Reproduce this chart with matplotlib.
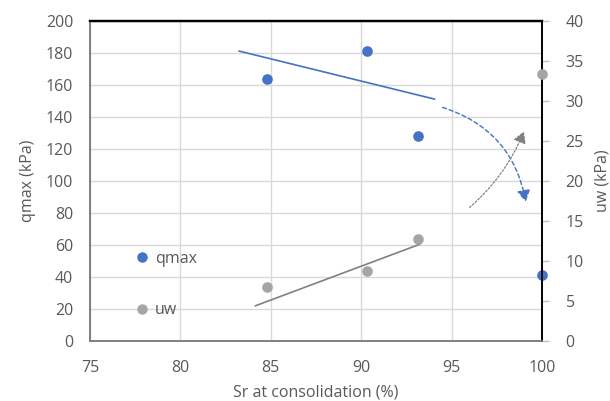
import matplotlib
matplotlib.use("Agg")
import matplotlib.pyplot as plt
from matplotlib.patches import FancyArrowPatch
from matplotlib.lines import Line2D

plt.rcParams['font.family'] = ['Open Sans', 'DejaVu Sans']

# Degree of saturation at consolidation (%)
sr = [84.8, 90.3, 93.15, 100.0]
# Peak deviator stress (kPa)
qmax = [164, 181.5, 128, 41]
# Pore water pressure (kPa)
uw = [6.7, 8.7, 12.8, 33.4]

# Linear trends over the first three tests
qmax_trend_x = [83.25, 94.05]
qmax_trend_y = [181.2, 151.2]
uw_trend_x = [84.15, 93.25]
uw_trend_y = [4.4, 12.1]

xticks = [75, 80, 85, 90, 95, 100]
qticks = list(range(0, 201, 20))
uticks = list(range(0, 41, 5))

blue = '#4472C4'
gray = '#A5A5A5'
txt = '#595959'

fig = plt.figure(figsize=(6.1, 4.01), dpi=100)
ax = fig.add_axes([90/610, 60/401, 452/610, 320/401])
ax2 = ax.twinx()

ax.set_xlim(75, 100)
ax.set_ylim(0, 200)
ax2.set_ylim(0, 40)
ax.set_xticks(xticks)
ax.set_yticks(qticks)
ax2.set_yticks(uticks)

ax.grid(True, color='#D9D9D9', linewidth=1.0)
ax.set_axisbelow(True)

ax.plot(qmax_trend_x, qmax_trend_y, color=blue, linewidth=1.2, zorder=2)
ax2.plot(uw_trend_x, uw_trend_y, color='#808080', linewidth=1.2, zorder=2)
ax.scatter(sr, qmax, s=44, color=blue, zorder=4, clip_on=False)
ax2.scatter(sr, uw, s=44, color=gray, zorder=4, clip_on=False)

# Curved arrows indicating the trend change near full saturation
a1 = FancyArrowPatch((94.5, 146), (99.1, 87), connectionstyle='arc3,rad=-0.3',
                     arrowstyle='-|>,head_length=7,head_width=4', color=blue,
                     linestyle=(0, (3, 2)), linewidth=1.0, zorder=3,
                     shrinkA=0, shrinkB=0)
a2 = FancyArrowPatch((96.0, 83.5), (99.0, 131), connectionstyle='arc3,rad=0.12',
                     arrowstyle='-|>,head_length=7,head_width=4', color='#808080',
                     linestyle=(0, (1.5, 1.5)), linewidth=0.9, zorder=3,
                     shrinkA=0, shrinkB=0)
ax.add_patch(a1)
ax.add_patch(a2)

for a in (ax, ax2):
    a.tick_params(labelsize=11.5, colors=txt)
ax.tick_params(axis='x', length=0, pad=14)
ax.tick_params(axis='y', length=0, pad=12)
ax2.tick_params(axis='y', length=5, width=1, color='#BFBFBF', pad=12)

for a in (ax, ax2):
    a.spines['top'].set_color('black')
    a.spines['top'].set_linewidth(1.6)
    a.spines['right'].set_color('black')
    a.spines['right'].set_linewidth(1.2)
    a.spines['left'].set_color('#7F7F7F')
    a.spines['left'].set_linewidth(1.2)
    a.spines['bottom'].set_color('#7F7F7F')
    a.spines['bottom'].set_linewidth(1.2)

ax.set_xlabel('Sr at consolidation (%)', fontsize=11.5, color=txt, labelpad=6)
ax.set_ylabel('qmax (kPa)', fontsize=11.5, color=txt, labelpad=7)
ax2.set_ylabel('uw (kPa)', fontsize=11.5, color=txt, labelpad=8)

handles = [Line2D([], [], marker='o', linestyle='', color=blue, markersize=6.5),
           Line2D([], [], marker='o', linestyle='', color=gray, markersize=6.5)]
leg = ax.legend(handles, ['qmax', 'uw'], loc='upper left',
                bbox_to_anchor=(128/610, 1 - 243/401), bbox_transform=fig.transFigure,
                frameon=False, fontsize=11.5, labelspacing=2.2, handlelength=0.8,
                handletextpad=0.4, borderpad=0)
for t in leg.get_texts():
    t.set_color(txt)
leg.set_zorder(5)

fig.savefig('out.png', dpi=100)
